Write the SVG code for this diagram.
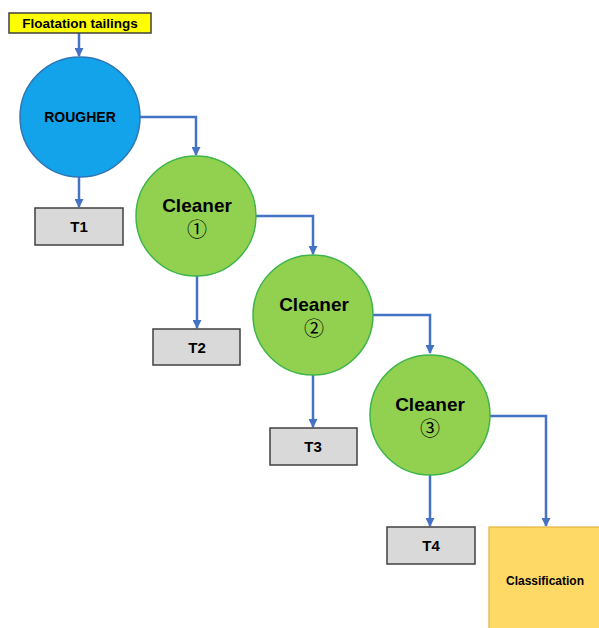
<svg xmlns="http://www.w3.org/2000/svg" width="599" height="628" viewBox="0 0 599 628">
<style>
.conn{fill:none;stroke:#4472C4;stroke-width:2.5;marker-end:url(#ah)}
.t{font-family:"Liberation Sans",Arial,sans-serif;font-weight:bold;fill:#000;text-anchor:middle}
.box{fill:#D9D9D9;stroke:#404040;stroke-width:1.5}
.cl{fill:#92D050;stroke:#3DB54A;stroke-width:1.5}
.num{font-family:"Noto Sans CJK SC","DejaVu Sans",sans-serif;font-size:20px;fill:#000;text-anchor:middle}
</style>
<defs>
<marker id="ah" markerWidth="9" markerHeight="9" refX="8" refY="4.5" orient="auto" markerUnits="userSpaceOnUse">
<path d="M0,0 L9,4.5 L0,9 Z" fill="#4472C4"/>
</marker>
</defs>
<rect width="599" height="628" fill="#fff"/>
<g id="connectors">
<path class="conn" d="M79,33 V56"/>
<path class="conn" d="M140,117 H196 V155"/>
<path class="conn" d="M79,177 V207"/>
<path class="conn" d="M256,216 H313 V254"/>
<path class="conn" d="M197,276 V328"/>
<path class="conn" d="M373,315 H430 V353"/>
<path class="conn" d="M313,375 V427"/>
<path class="conn" d="M490,416 H546 V526"/>
<path class="conn" d="M430,475 V526"/>
</g>
<g id="floatation">
<rect x="9" y="13" width="142" height="20" fill="#FFFF00" stroke="#404040" stroke-width="1.5"/>
<text class="t" x="80" y="28" font-size="13.5">Floatation tailings</text>
</g>
<g id="rougher">
<circle cx="80" cy="117" r="60" fill="#12A3EA" stroke="#2E75B6" stroke-width="1.5"/>
<text class="t" x="80" y="122" font-size="14">ROUGHER</text>
</g>
<g id="t1">
<rect class="box" x="35" y="208" width="88" height="37"/>
<text class="t" x="79" y="232" font-size="15">T1</text>
</g>
<g id="cleaner1">
<circle class="cl" cx="196" cy="216" r="60"/>
<text class="t" x="197" y="212" font-size="19">Cleaner</text>
<text class="num" x="197" y="237">①</text>
</g>
<g id="t2">
<rect class="box" x="153" y="329" width="87" height="36"/>
<text class="t" x="197" y="353" font-size="15">T2</text>
</g>
<g id="cleaner2">
<circle class="cl" cx="313" cy="315" r="60"/>
<text class="t" x="314" y="311" font-size="19">Cleaner</text>
<text class="num" x="314" y="336">②</text>
</g>
<g id="t3">
<rect class="box" x="270" y="428" width="87" height="37"/>
<text class="t" x="313" y="452" font-size="15">T3</text>
</g>
<g id="cleaner3">
<circle class="cl" cx="430" cy="415" r="60"/>
<text class="t" x="430" y="411" font-size="19">Cleaner</text>
<text class="num" x="430" y="436">③</text>
</g>
<g id="t4">
<rect class="box" x="387" y="527" width="88" height="37"/>
<text class="t" x="431" y="551" font-size="15">T4</text>
</g>
<g id="classification">
<rect x="489" y="527" width="115" height="106" fill="#FFD966" stroke="#E2B33E" stroke-width="1.2"/>
<text class="t" x="545" y="585" font-size="12">Classification</text>
</g>
</svg>
